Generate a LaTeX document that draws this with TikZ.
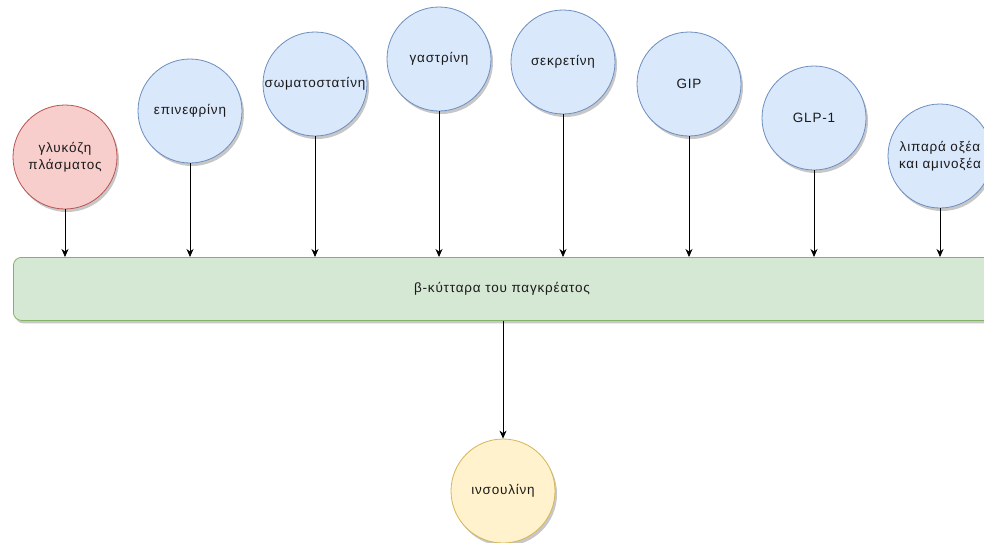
\documentclass[tikz,border=0pt]{standalone}
\usepackage{fontspec}
\setmainfont{Liberation Sans}[LetterSpace=6]
\usetikzlibrary{arrows.meta,shadows}

\definecolor{redfill}{HTML}{F8CECC}
\definecolor{redline}{HTML}{B85450}
\definecolor{bluefill}{HTML}{DAE8FC}
\definecolor{blueline}{HTML}{6C8EBF}
\definecolor{greenfill}{HTML}{D5E8D4}
\definecolor{greenline}{HTML}{82B366}
\definecolor{yellowfill}{HTML}{FFF2CC}
\definecolor{yellowline}{HTML}{D6B656}
\definecolor{txt}{HTML}{1A1A1A}

\tikzset{
  softshadow/.style={drop shadow={shadow xshift=2pt, shadow yshift=-3pt, fill=black, opacity=0.22}},
  labelfont/.style={font=\fontsize{13.5}{16.5}\selectfont, text=txt},
  bubble/.style={circle, minimum size=104pt, inner sep=0pt, line width=0.8pt,
    align=center, labelfont, softshadow},
  hormone/.style={bubble, fill=bluefill, draw=blueline},
  glucose/.style={bubble, fill=redfill, draw=redline},
  product/.style={bubble, fill=yellowfill, draw=yellowline},
  cellbox/.style={rectangle, rounded corners=8pt, fill=greenfill, draw=greenline,
    line width=0.8pt, minimum height=63pt, inner sep=0pt, softshadow},
  link/.style={draw=black, line width=0.8pt, -{Stealth[length=8pt,width=7pt,inset=2.5pt]}},
}

\begin{document}
\begin{tikzpicture}[x=1pt, y=-1pt]
  \useasboundingbox (0,0) rectangle (984,542);
  \clip (0,0) rectangle (984,542);

  % pancreatic beta cells (runs past the right edge)
  \node[cellbox, minimum width=1000pt, anchor=north west] (beta) at (13,257) {};
  \node[labelfont] (betalabel) at (502,289) {β-κύτταρα του παγκρέατος};

  % inputs
  \node[glucose] (glu) at (65,157) {γλυκόζη\\πλάσματος};
  \node[hormone] (epi) at (190,111) {επινεφρίνη};
  \node[hormone] (som) at (315,84) {σωματοστατίνη};
  \node[hormone] (gas) at (439,59) {γαστρίνη};
  \node[hormone] (sec) at (563,62) {σεκρετίνη};
  \node[hormone] (gip) at (689,84) {GIP};
  \node[hormone] (glp) at (814,118) {GLP-1};
  \node[hormone] (ffa) at (940,156) {λιπαρά οξέα\\και αμινοξέα};

  % output
  \node[product] (ins) at (503,491) {ινσουλίνη};

  % connectors
  \foreach \n in {glu,epi,som,gas,sec,gip,glp,ffa}
    \draw[link] (\n.south) -- (\n.south |- beta.north);
  \draw[link] (beta.south -| ins.north) -- (ins.north);
\end{tikzpicture}
\end{document}
